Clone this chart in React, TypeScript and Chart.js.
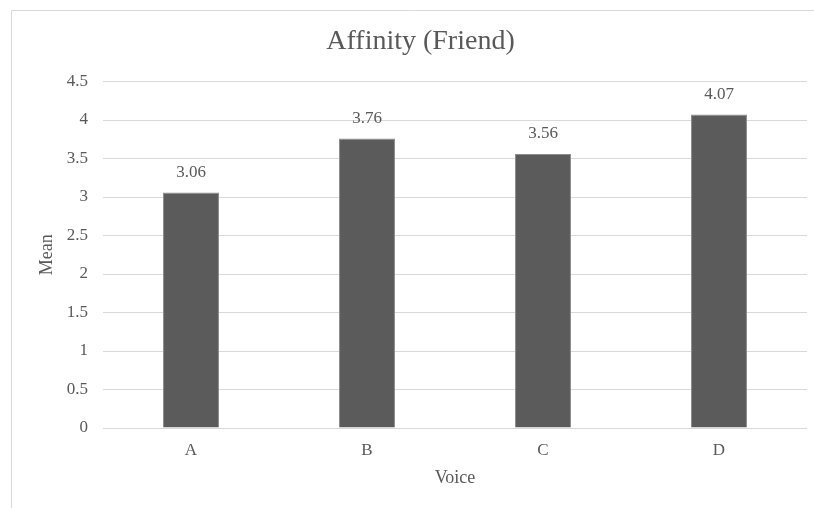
import React, { useEffect, useRef } from "react";
import { Chart, registerables } from "chart.js";

Chart.register(...registerables);

const categories = ["A", "B", "C", "D"];
const meanValues = [3.06, 3.76, 3.56, 4.07];
const yTicks = [0, 0.5, 1, 1.5, 2, 2.5, 3, 3.5, 4, 4.5];

const chartTitle = "Affinity (Friend)";
const xAxisTitle = "Voice";
const yAxisTitle = "Mean";

const FONT = '"Liberation Serif", "Times New Roman", Times, serif';
const TEXT = "#595959";
const GRID = "#d9d9d9";

// Thin frame around the chart (left and top edges visible)
const framePlugin = {
  id: "frame",
  beforeDraw(chart: any) {
    const { ctx, width, height } = chart;
    ctx.save();
    ctx.strokeStyle = GRID;
    ctx.lineWidth = 1;
    ctx.beginPath();
    ctx.moveTo(11.5, height);
    ctx.lineTo(11.5, 10.5);
    ctx.lineTo(width, 10.5);
    ctx.stroke();
    ctx.restore();
  },
};

// Value labels above each bar
const valueLabelPlugin = {
  id: "valueLabels",
  afterDatasetsDraw(chart: any) {
    const { ctx } = chart;
    const meta = chart.getDatasetMeta(0);
    const data = chart.data.datasets[0].data as number[];
    ctx.save();
    ctx.fillStyle = TEXT;
    ctx.font = `17px ${FONT}`;
    ctx.textAlign = "center";
    ctx.textBaseline = "middle";
    meta.data.forEach((bar: any, i: number) => {
      ctx.fillText(data[i].toFixed(2), bar.x, bar.y - 20);
    });
    ctx.restore();
  },
};

export default function App() {
  const canvasRef = useRef<HTMLCanvasElement | null>(null);

  useEffect(() => {
    if (!canvasRef.current) return;
    const chart = new Chart(canvasRef.current, {
      type: "bar",
      data: {
        labels: categories,
        datasets: [
          {
            data: meanValues,
            backgroundColor: "#5b5b5b",
            borderColor: "#8c8c8c",
            borderWidth: 1,
            categoryPercentage: 1,
            barPercentage: 0.318,
          },
        ],
      },
      options: {
        responsive: false,
        animation: false,
        devicePixelRatio: 1,
        layout: { padding: { left: 34, right: 7, top: 0, bottom: 0 } },
        plugins: {
          legend: { display: false },
          tooltip: { enabled: false },
          title: {
            display: true,
            text: chartTitle,
            color: TEXT,
            font: { family: FONT, size: 28, weight: "normal" },
            padding: { top: 25, bottom: 22.9 },
          },
        },
        scales: {
          x: {
            grid: { display: false, drawTicks: false },
            border: { display: false },
            ticks: {
              color: TEXT,
              font: { family: FONT, size: 17 },
              padding: 12,
            },
            title: {
              display: true,
              text: xAxisTitle,
              color: TEXT,
              font: { family: FONT, size: 18 },
              padding: { top: 0, bottom: 19 },
            },
            afterFit(scale: any) {
              scale.height = 80;
            },
          },
          y: {
            min: 0,
            max: 4.5,
            afterBuildTicks(scale: any) {
              scale.ticks = yTicks.map((v) => ({ value: v }));
            },
            grid: { color: GRID, lineWidth: 1, drawTicks: false },
            border: { display: false },
            ticks: {
              color: TEXT,
              font: { family: FONT, size: 17 },
              padding: 15,
              callback: (value: any) => String(value),
            },
            title: {
              display: true,
              text: yAxisTitle,
              color: TEXT,
              font: { family: FONT, size: 18 },
              padding: { top: 2, bottom: 0 },
            },
            afterFit(scale: any) {
              scale.width = 69;
            },
          },
        },
      },
      plugins: [framePlugin, valueLabelPlugin],
    });
    return () => chart.destroy();
  }, []);

  return (
    <div style={{ position: "absolute", left: 0, top: 0, width: 814, height: 508, background: "#fff" }}>
      <canvas ref={canvasRef} width={814} height={508} style={{ display: "block" }} />
    </div>
  );
}
